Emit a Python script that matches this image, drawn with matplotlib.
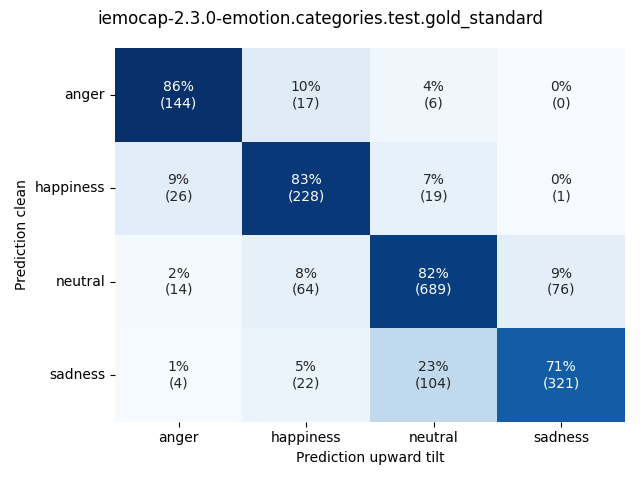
import matplotlib
matplotlib.use("Agg")
import matplotlib.pyplot as plt
import numpy as np
import seaborn as sns

labels = ["anger", "happiness", "neutral", "sadness"]
counts = np.array([
    [144, 17, 6, 0],
    [26, 228, 19, 1],
    [14, 64, 689, 76],
    [4, 22, 104, 321],
])

ratios = counts / counts.sum(axis=1, keepdims=True)
annot = np.array([
    [f"{ratios[i, j] * 100:.0f}%\n({counts[i, j]})" for j in range(counts.shape[1])]
    for i in range(counts.shape[0])
])

fig, ax = plt.subplots(figsize=(6.4, 4.8), dpi=100)
sns.heatmap(
    ratios,
    annot=annot,
    fmt="",
    cmap="Blues",
    cbar=False,
    xticklabels=labels,
    yticklabels=labels,
    ax=ax,
)
ax.set_yticklabels(labels, rotation=0)
ax.set_xlabel("Prediction upward tilt")
ax.set_ylabel("Prediction clean")
fig.suptitle("iemocap-2.3.0-emotion.categories.test.gold_standard")
fig.tight_layout()
fig.savefig("out.png")
